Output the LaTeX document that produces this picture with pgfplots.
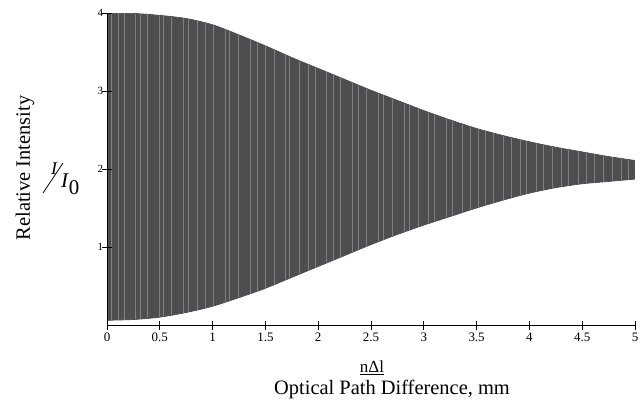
\documentclass[border=0pt]{standalone}
\usepackage{fontspec}
\setmainfont{Liberation Serif}
\usepackage{pgfplots}
\pgfplotsset{compat=1.18}
\usepgfplotslibrary{fillbetween}
\usepackage{pgfplotstable}
\definecolor{dark}{RGB}{78,78,80}
\definecolor{streak}{RGB}{128,128,130}

\pgfplotstableread{
x u l
0.00 4.00 0.06
0.25 3.995 0.07
0.50 3.97 0.10
0.75 3.93 0.16
1.00 3.85 0.24
1.25 3.72 0.35
1.50 3.58 0.47
1.75 3.43 0.61
2.00 3.29 0.75
2.25 3.15 0.89
2.50 3.01 1.03
2.75 2.88 1.16
3.00 2.75 1.28
3.25 2.63 1.39
3.50 2.52 1.50
3.75 2.43 1.60
4.00 2.35 1.69
4.25 2.28 1.76
4.50 2.22 1.81
4.75 2.16 1.84
5.00 2.11 1.87
}\envelope

\pgfplotstableread{
x y
0.04 4
0.11 4
0.16 4
0.27 4
0.31 4
0.38 4
0.49 4
0.53 4
0.61 4
0.72 4
0.77 4
0.85 4
0.93 4
1.01 4
1.12 4
1.16 4
1.24 4
1.36 4
1.42 4
1.50 4
1.58 4
1.69 4
1.73 4
1.82 4
1.91 4
1.97 4
2.08 4
2.14 4
2.21 4
2.32 4
2.38 4
2.45 4
2.57 4
2.62 4
2.70 4
2.81 4
2.86 4
2.95 4
3.04 4
3.10 4
3.21 4
3.27 4
3.36 4
3.44 4
3.52 4
3.58 4
3.66 4
3.75 4
3.83 4
3.91 4
3.97 4
4.06 4
4.13 4
4.22 4
4.30 4
4.37 4
4.46 4
4.54 4
4.61 4
4.70 4
4.78 4
4.87 4
4.94 4
}\streaks

\begin{document}
\begin{tikzpicture}[x=1bp,y=1bp]
\begin{axis}[
  at={(0,0)}, anchor=south west,
  scale only axis, width=528bp, height=312bp,
  xmin=0, xmax=5, ymin=0, ymax=4,
  set layers,
  axis lines=left, axis line style={-, black, line width=0.8bp},
  xtick={0,0.5,1,1.5,2,2.5,3,3.5,4,4.5,5},
  ytick={1,2,3,4},
  tick align=center, major tick length=9bp,
  tick style={black, line width=0.7bp},
  /pgf/number format/assume math mode=true,
  xticklabel style={font=\fontsize{13}{13}\selectfont},
  yticklabel style={font=\fontsize{11}{11}\selectfont, xshift=4bp},
  axis on top,
]
\addplot[name path=U, draw=none, smooth] table[x=x, y=u] {\envelope};
\addplot[name path=L, draw=none, smooth] table[x=x, y=l] {\envelope};
\addplot[name path=T, draw=none] coordinates {(0,4.05) (5,4.05)};
\addplot[name path=B, draw=none] coordinates {(0,-0.05) (5,-0.05)};
\addplot[fill=dark, draw=none] fill between[of=T and B];
\addplot[ycomb, draw=streak, line width=0.45bp, mark=none, on layer=pre main] table[x=x, y=y] {\streaks};
\addplot[fill=white, draw=none] fill between[of=U and T];
\addplot[fill=white, draw=none] fill between[of=L and B];
\addplot[draw=dark!85!black, line width=0.6bp, smooth] table[x=x, y=u] {\envelope};
\addplot[draw=dark!85!black, line width=0.6bp, smooth] table[x=x, y=l] {\envelope};
\end{axis}
\node[rotate=90, font=\fontsize{20.5}{24}\selectfont] at (-82,157) {Relative Intensity};
\node[font=\fontsize{18}{18}\selectfont\itshape, inner sep=0pt, anchor=base] at (-53,151) {I};
\draw[line width=0.7bp] (-64,132) -- (-44,162);
\node[font=\fontsize{21}{21}\selectfont, inner sep=0pt, anchor=base west] at (-46,138) {\textit{I}\raisebox{-7bp}{0}};
\node[font=\fontsize{17}{17}\selectfont, inner sep=1pt] at (265,-43) {\underline{nΔl}};
\node[font=\fontsize{20.5}{24}\selectfont] at (285,-64) {Optical Path Difference, mm};
\path (-107,-80) rectangle (535,325);
\end{tikzpicture}
\end{document}
